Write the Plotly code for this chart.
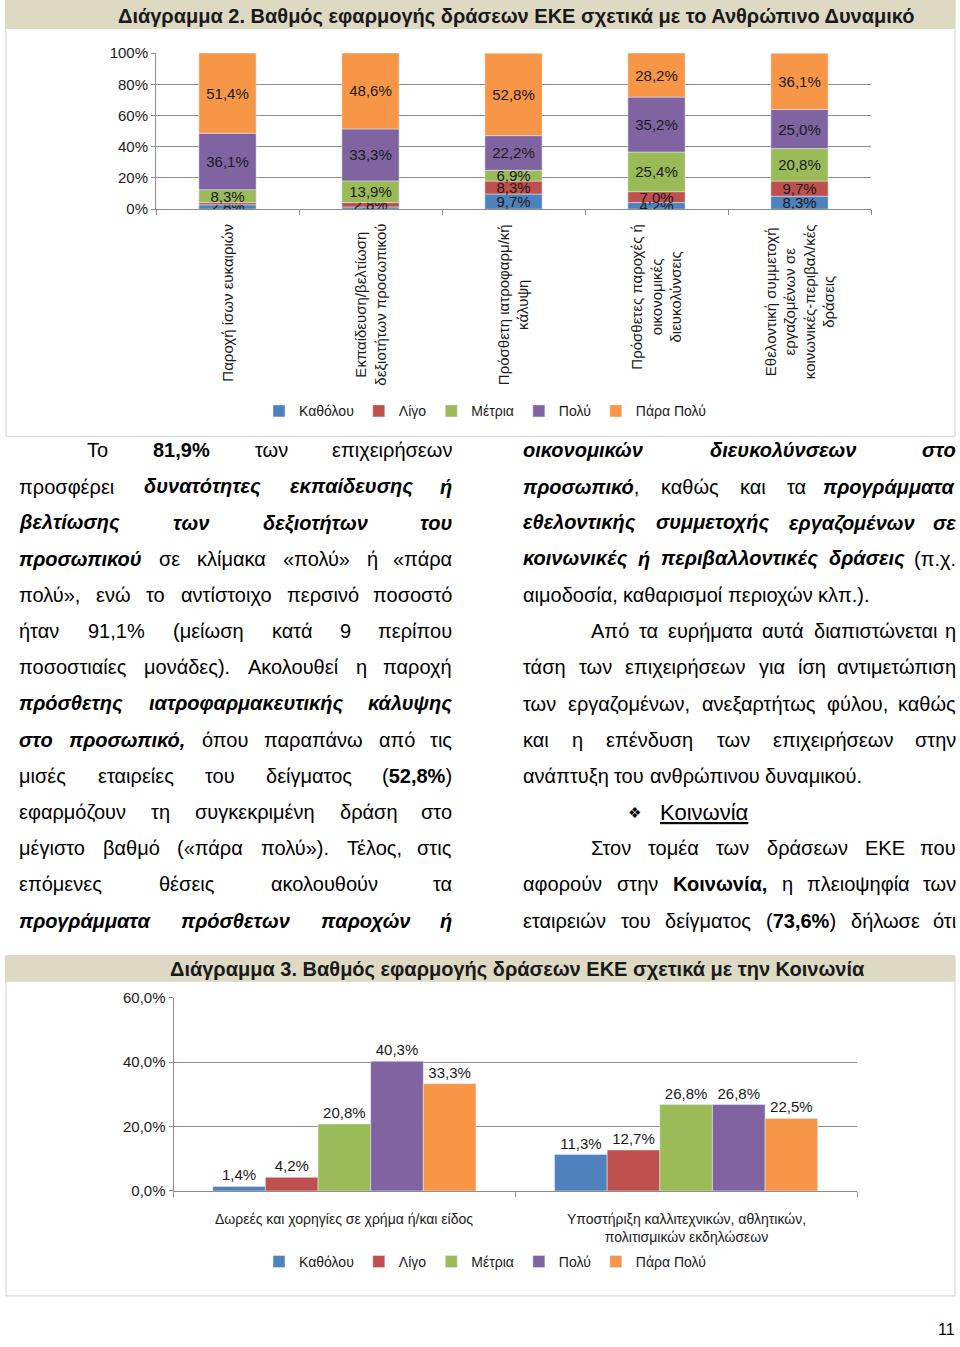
import glob
import re
from itertools import groupby

import plotly.graph_objects as go

W, H = 960, 1347
# the page shows the figure shifted down 9px and squeezed into 1329px,
# so positions read off the reference are mapped through that band
TOP, VIS_H = 9, 1329
FONT = "Liberation Sans, Arial, sans-serif"
GRID = "#8c8c8c"
BODY_SIZE = 20

# ---------------- data ----------------
levels = ["Καθόλου", "Λίγο", "Μέτρια", "Πολύ", "Πάρα Πολύ"]
level_colors = ["#4f81bd", "#c0504d", "#9bbb59", "#8064a2", "#f79646"]

# Διάγραμμα 2 - Ανθρώπινο Δυναμικό (stacked, %)
hr_keys = ["isotita", "ekpaideusi", "iatrofarm", "paroxes", "ethelontismos"]
hr_labels = [
    "Παροχή ίσων ευκαιριών",
    "Εκπαίδευση/βελτίωση<br>δεξιοτήτων προσωπικού",
    "Πρόσθετη ιατροφαρμ/κή<br>κάλυψη",
    "Πρόσθετες παροχές ή<br>οικονομικές<br>διευκολύνσεις",
    "Εθελοντική συμμετοχή<br>εργαζομένων σε<br>κοινωνικές-περιβαλ/κές<br>δράσεις",
]
hr_katholou = [2.8, 1.4, 9.7, 4.2, 8.3]
hr_ligo = [1.4, 2.8, 8.3, 7.0, 9.7]
hr_metria = [8.3, 13.9, 6.9, 25.4, 20.8]
hr_poly = [36.1, 33.3, 22.2, 35.2, 25.0]
hr_para_poly = [51.4, 48.6, 52.8, 28.2, 36.1]
hr_series = [hr_katholou, hr_ligo, hr_metria, hr_poly, hr_para_poly]

# Διάγραμμα 3 - Κοινωνία (grouped, %)
soc_keys = ["dorees", "ypostirixi"]
soc_labels = [
    "Δωρεές και χορηγίες σε χρήμα ή/και είδος",
    "Υποστήριξη καλλιτεχνικών, αθλητικών,<br>πολιτισμικών εκδηλώσεων",
]
soc_katholou = [1.4, 11.3]
soc_ligo = [4.2, 12.7]
soc_metria = [20.8, 26.8]
soc_poly = [40.3, 26.8]
soc_para_poly = [33.3, 22.5]
soc_series = [soc_katholou, soc_ligo, soc_metria, soc_poly, soc_para_poly]

# ---------------- page text ----------------
LEFT_LINES = [
    "Το <b>81,9%</b> των επιχειρήσεων",
    "προσφέρει <b><i>δυνατότητες εκπαίδευσης ή</i></b>",
    "<b><i>βελτίωσης των δεξιοτήτων του</i></b>",
    "<b><i>προσωπικού</i></b> σε κλίμακα «πολύ» ή «πάρα",
    "πολύ», ενώ το αντίστοιχο περσινό ποσοστό",
    "ήταν 91,1% (μείωση κατά 9 περίπου",
    "ποσοστιαίες μονάδες). Ακολουθεί η παροχή",
    "<b><i>πρόσθετης ιατροφαρμακευτικής κάλυψης</i></b>",
    "<b><i>στο προσωπικό,</i></b> όπου παραπάνω από τις",
    "μισές εταιρείες του δείγματος (<b>52,8%</b>)",
    "εφαρμόζουν τη συγκεκριμένη δράση στο",
    "μέγιστο βαθμό («πάρα πολύ»). Τέλος, στις",
    "επόμενες θέσεις ακολουθούν τα",
    "<b><i>προγράμματα πρόσθετων παροχών ή</i></b>",
]
# (text, indented first line, justified)
RIGHT_LINES = [
    ("<b><i>οικονομικών διευκολύνσεων στο</i></b>", False, True),
    ("<b><i>προσωπικό</i></b>, καθώς και τα <b><i>προγράμματα</i></b>", False, True),
    ("<b><i>εθελοντικής συμμετοχής εργαζομένων σε</i></b>", False, True),
    ("<b><i>κοινωνικές ή περιβαλλοντικές δράσεις</i></b> (π.χ.", False, True),
    ("αιμοδοσία, καθαρισμοί περιοχών κλπ.).", False, False),
    ("Από τα ευρήματα αυτά διαπιστώνεται η", True, True),
    ("τάση των επιχειρήσεων για ίση αντιμετώπιση", False, True),
    ("των εργαζομένων, ανεξαρτήτως φύλου, καθώς", False, True),
    ("και η επένδυση των επιχειρήσεων στην", False, True),
    ("ανάπτυξη του ανθρώπινου δυναμικού.", False, False),
    None,  # heading "Κοινωνία"
    ("Στον τομέα των δράσεων ΕΚΕ που", True, True),
    ("αφορούν στην <b>Κοινωνία,</b> η πλειοψηφία των", False, True),
    ("εταιρειών του δείγματος (<b>73,6%</b>) δήλωσε ότι", False, True),
]


def px(x):
    return x / W


def py(y):
    return 1 - (y - TOP) / VIS_H


def pct(v):
    return f"{v:.1f}%".replace(".", ",")


# ---------- text measuring (for justified lines) ----------
try:
    from PIL import ImageFont

    def _font(name):
        hits = glob.glob(f"/usr/share/fonts/**/{name}", recursive=True)
        return ImageFont.truetype(hits[0], BODY_SIZE)

    PIL_FONTS = {
        (False, False): _font("LiberationSans-Regular.ttf"),
        (True, False): _font("LiberationSans-Bold.ttf"),
        (False, True): _font("LiberationSans-Italic.ttf"),
        (True, True): _font("LiberationSans-BoldItalic.ttf"),
    }
except Exception:
    PIL_FONTS = None

EM = {" ": 278, ",": 278, ".": 278, "%": 889, "(": 333, ")": 333, "«": 556, "»": 556,
      "/": 278, "-": 333, "α": 578, "β": 575, "γ": 500, "δ": 557, "ε": 446, "ζ": 441,
      "η": 556, "θ": 556, "ι": 222, "κ": 500, "λ": 500, "μ": 577, "ν": 500, "ξ": 448,
      "ο": 556, "π": 688, "ρ": 570, "σ": 617, "ς": 482, "τ": 438, "υ": 547, "φ": 648,
      "χ": 500, "ψ": 712, "ω": 778, "ά": 578, "έ": 446, "ή": 556, "ί": 222, "ό": 556,
      "ύ": 547, "ώ": 778, "Α": 667, "Ε": 667, "Κ": 667, "Σ": 618, "Τ": 611, "Π": 722}


def run_width(text, bold, italic):
    if PIL_FONTS:
        return PIL_FONTS[(bold, italic)].getlength(text)
    w = sum(EM.get(c, 556) for c in text) * BODY_SIZE / 1000
    return w * (1.08 if bold else 1.0)


def parse_words(line):
    bold = italic = False
    chars = []
    for part in re.split(r"(</?[bi]>)", line):
        if part in ("<b>", "</b>"):
            bold = part == "<b>"
        elif part in ("<i>", "</i>"):
            italic = part == "<i>"
        else:
            chars.extend((c, bold, italic) for c in part)
    words, cur = [], []
    for c, b, i in chars:
        if c == " ":
            if cur:
                words.append(cur)
                cur = []
        else:
            cur.append((c, b, i))
    if cur:
        words.append(cur)
    return words


def word_html(word):
    out = ""
    for (b, i), grp in groupby(word, key=lambda t: (t[1], t[2])):
        s = "".join(t[0] for t in grp)
        if i:
            s = f"<i>{s}</i>"
        if b:
            s = f"<b>{s}</b>"
        out += s
    return out


def word_width(word):
    return sum(run_width("".join(t[0] for t in grp), b, i)
               for (b, i), grp in groupby(word, key=lambda t: (t[1], t[2])))


annotations = []


def text_ann(x, y, text, size=BODY_SIZE, anchor="left", yanchor="middle", **kw):
    annotations.append(dict(x=px(x), y=py(y), xref="paper", yref="paper", text=text,
                            showarrow=False, xanchor=anchor, yanchor=yanchor, borderpad=0,
                            font=dict(family=FONT, size=size, color="#000000"), **kw))


def place_line(line, y, x0, x1, justify):
    words = parse_words(line)
    widths = [word_width(w) for w in words]
    if justify and len(words) > 1:
        gap = (x1 - x0 - sum(widths)) / (len(words) - 1)
    else:
        gap = run_width(" ", False, False)
    x = x0
    for k, (w, wd) in enumerate(zip(words, widths)):
        if justify and len(words) > 1 and k == len(words) - 1:
            text_ann(x1, y, word_html(w), anchor="right")
        else:
            text_ann(x, y, word_html(w))
        x += wd + gap


LINE_Y0, LINE_STEP = 450, 36.15
for k, line in enumerate(LEFT_LINES):
    place_line(line, LINE_Y0 + k * LINE_STEP, 86 if k == 0 else 18, 453, True)
for k, item in enumerate(RIGHT_LINES):
    y = LINE_Y0 + k * LINE_STEP
    if item is None:
        text_ann(634, y, "❖", size=15, anchor="center")
        text_ann(659, y, "<u>Κοινωνία</u>", size=22)
        continue
    line, indent, justify = item
    place_line(line, y, 590 if indent else 522, 957, justify)

# ---------------- figure ----------------
fig = go.Figure()

# Διάγραμμα 2: stacked bars built with base offsets
cum = [0.0] * len(hr_keys)
for name, color, vals in zip(levels, level_colors, hr_series):
    fig.add_trace(go.Bar(
        x=hr_keys, y=vals, base=list(cum), name=name, marker_color=color,
        width=0.4, offsetgroup="hr", xaxis="x", yaxis="y", legend="legend",
        text=[pct(v) if v >= 2 else "" for v in vals], textposition="inside",
        insidetextanchor="middle", constraintext="none", textangle=0,
        textfont=dict(family=FONT, size=15, color="#1a1a1a"),
    ))
    cum = [c + v for c, v in zip(cum, vals)]

# Διάγραμμα 3: grouped bars
for name, color, vals in zip(levels, level_colors, soc_series):
    fig.add_trace(go.Bar(
        x=soc_keys, y=vals, name=name, marker_color=color,
        xaxis="x2", yaxis="y2", legend="legend2",
        text=[pct(v) for v in vals], textposition="outside", cliponaxis=False,
        textfont=dict(family=FONT, size=15, color="#1a1a1a"),
    ))

# category labels
for key, lab in zip(hr_keys, hr_labels):
    annotations.append(dict(x=key, y=py(222), xref="x", yref="paper", text=lab,
                            showarrow=False, textangle=-90, align="center",
                            xanchor="center", yanchor="top",
                            font=dict(family=FONT, size=15, color="#1a1a1a")))
for key, lab in zip(soc_keys, soc_labels):
    annotations.append(dict(x=key, y=py(1208), xref="x2", yref="paper", text=lab,
                            showarrow=False, align="center", xanchor="center",
                            yanchor="top", font=dict(family=FONT, size=14, color="#1a1a1a")))

# chart titles and page number
annotations.append(dict(x=px(516), y=py(16), xref="paper", yref="paper", showarrow=False,
                        text="<b>Διάγραμμα 2. Βαθμός εφαρμογής δράσεων ΕΚΕ σχετικά με το Ανθρώπινο Δυναμικό</b>",
                        font=dict(family=FONT, size=20, color="#1a1a1a"), yanchor="middle"))
annotations.append(dict(x=px(517), y=py(968), xref="paper", yref="paper", showarrow=False,
                        text="<b>Διάγραμμα 3. Βαθμός εφαρμογής δράσεων ΕΚΕ σχετικά με την Κοινωνία</b>",
                        font=dict(family=FONT, size=20, color="#1a1a1a"), yanchor="middle"))
text_ann(946, 1338, "11", size=16, anchor="center", yanchor="bottom")

shapes = [
    dict(type="rect", xref="paper", yref="paper", x0=px(6), x1=px(955), y0=py(436), y1=py(0),
         line=dict(color="#d0d0d0", width=1), layer="below"),
    dict(type="rect", xref="paper", yref="paper", x0=px(5), x1=px(955), y0=py(29), y1=py(0),
         fillcolor="#ddd9c3", line=dict(width=0), layer="below"),
    dict(type="rect", xref="paper", yref="paper", x0=px(6), x1=px(955), y0=py(1295), y1=py(955),
         line=dict(color="#d0d0d0", width=1), layer="below"),
    dict(type="rect", xref="paper", yref="paper", x0=px(5), x1=px(955), y0=py(981), y1=py(955),
         fillcolor="#ddd9c3", line=dict(width=0), layer="below"),
]

axis_common = dict(showline=True, linecolor=GRID, linewidth=1, ticks="outside",
                   tickcolor=GRID, tickfont=dict(family=FONT, size=15, color="#1a1a1a"))
legend_common = dict(orientation="h", xanchor="center", yanchor="middle",
                     font=dict(family=FONT, size=14, color="#1a1a1a"),
                     bgcolor="rgba(0,0,0,0)", itemwidth=30, tracegroupgap=0)

fig.update_layout(
    width=W, height=H, autosize=False,
    margin=dict(l=0, r=0, t=0, b=0),
    paper_bgcolor="white", plot_bgcolor="white",
    separators=",.",
    barmode="group", bargap=0.23, bargroupgap=0,
    showlegend=True,
    xaxis=dict(domain=[px(156), px(871)], anchor="y", type="category",
               showticklabels=False, tickson="boundaries", ticklen=5, showgrid=False,
               **axis_common),
    yaxis=dict(domain=[py(209), py(53)], anchor="x", range=[0, 100], dtick=20,
               ticksuffix="%", tickformat=".0f", showgrid=True, gridcolor=GRID,
               zeroline=False, ticklen=4, **axis_common),
    xaxis2=dict(domain=[px(173.5), px(857)], anchor="y2", type="category",
                showticklabels=False, tickson="boundaries", ticklen=5, showgrid=False,
                **axis_common),
    yaxis2=dict(domain=[py(1190), py(997)], anchor="x2", range=[0, 60], dtick=20,
                ticksuffix="%", tickformat=".1f", showgrid=True, gridcolor=GRID,
                zeroline=False, ticklen=4, **axis_common),
    legend=dict(x=px(485), y=py(411), **legend_common),
    legend2=dict(x=px(485), y=py(1261), **legend_common),
    annotations=annotations,
    shapes=shapes,
)

# drop the default body margin so the 960px-wide figure is not pushed off the right edge
fig.write_html("out.html", config={"displayModeBar": False},
               post_script="document.body.style.margin='0px';")
